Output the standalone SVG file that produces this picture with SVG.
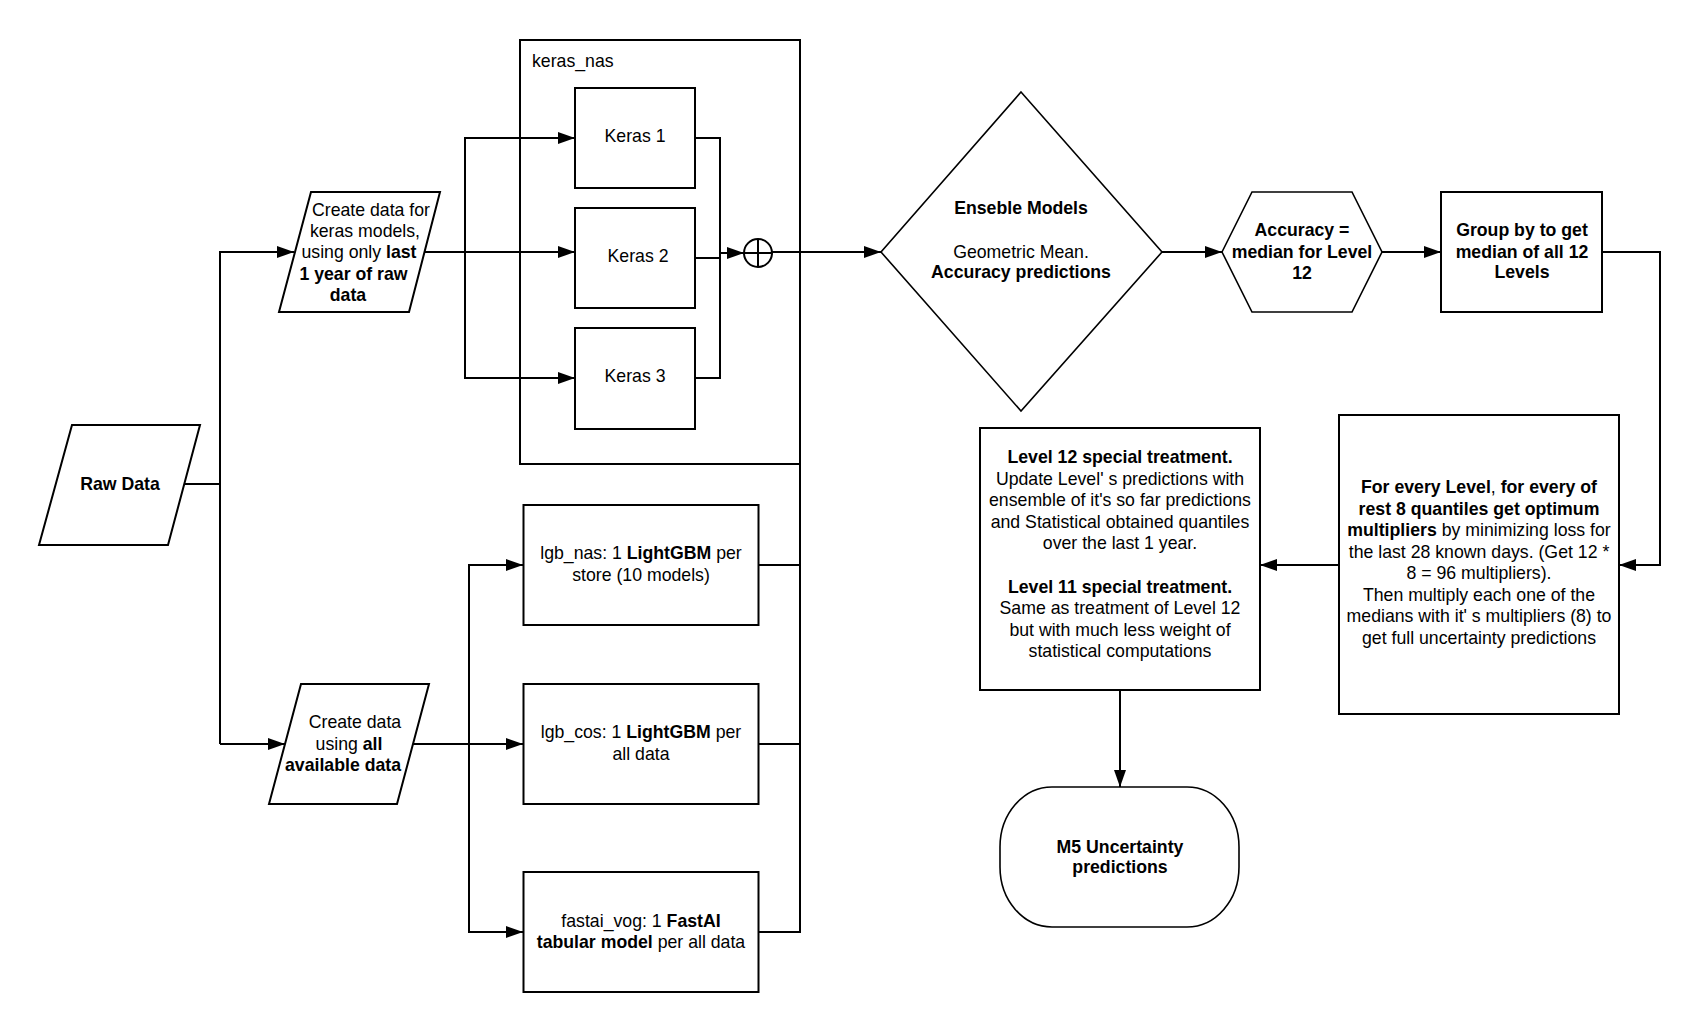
<svg xmlns="http://www.w3.org/2000/svg" width="1700" height="1032" viewBox="0 0 1700 1032">
<defs>
<marker id="arr" markerUnits="userSpaceOnUse" markerWidth="18" markerHeight="12" refX="17" refY="6" orient="auto">
<path d="M0,0 L17,6 L0,12 z" fill="#000"/>
</marker>
</defs>
<style>
text{font-family:"Liberation Sans",Arial,sans-serif;font-size:17.7px;fill:#000;text-anchor:middle}
.b{font-weight:bold}
.s{fill:#fff;stroke:#000;stroke-width:2}
.t{fill:#fff;stroke:#000;stroke-width:1.6}
.c{fill:none;stroke:#000;stroke-width:2}
.ca{fill:none;stroke:#000;stroke-width:2;marker-end:url(#arr)}
</style>
<rect width="1700" height="1032" fill="#fff"/>

<g id="keras_nas">
<rect class="s" x="520" y="40" width="280" height="424"/>
<text x="532" y="67" style="text-anchor:start">keras_nas</text>
</g>

<g id="connectors">
<path class="c" d="M184,484 H220 V744"/>
<path class="ca" d="M220,484 V252 H294"/>
<path class="ca" d="M220,744 H285"/>
<path class="ca" d="M424,252 H575"/>
<path class="ca" d="M465,252 V138 H575"/>
<path class="ca" d="M465,252 V378 H575"/>
<path class="c" d="M695,138 H720 V378 H695"/>
<path class="c" d="M695,258 H720"/>
<path class="ca" d="M720,253 H744"/>
<path class="ca" d="M772,252 H881"/>
<path class="ca" d="M413,744 H523"/>
<path class="ca" d="M469,744 V565 H523"/>
<path class="ca" d="M469,744 V932 H523"/>
<path class="c" d="M758,565 H800"/>
<path class="c" d="M758,744 H800"/>
<path class="c" d="M758,932 H800 V252"/>
<path class="ca" d="M1162,252 H1222"/>
<path class="ca" d="M1382,252 H1441"/>
<path class="ca" d="M1602,252 H1660 V565 H1619"/>
<path class="ca" d="M1339,565 H1260"/>
<path class="ca" d="M1120,690 V787"/>
</g>

<g id="raw_data">
<polygon class="s" points="72,425 200,425 168,545 39,545"/>
<text class="b" x="120" y="490">Raw Data</text>
</g>

<g id="create_keras">
<polygon class="s" points="311,192 440,192 409,312 279,312"/>
<text x="371" y="216">Create data for</text>
<text x="365" y="237">keras models,</text>
<text x="359" y="258">using only <tspan class="b">last</tspan></text>
<text x="353.5" y="280" class="b">1 year of raw</text>
<text x="348" y="301" class="b">data</text>
</g>

<g id="create_all">
<polygon class="s" points="301,684 429,684 397,804 269,804"/>
<text x="355" y="728">Create data</text>
<text x="349" y="750">using <tspan class="b">all</tspan></text>
<text x="343" y="771" class="b">available data</text>
</g>

<g id="keras1">
<rect class="s" x="575" y="88" width="120" height="100"/>
<text x="635" y="142">Keras 1</text>
</g>
<g id="keras2">
<rect class="s" x="575" y="208" width="120" height="100"/>
<text x="638" y="262">Keras 2</text>
</g>
<g id="keras3">
<rect class="s" x="575" y="328" width="120" height="101"/>
<text x="635" y="382">Keras 3</text>
</g>

<g id="sum">
<circle class="s" cx="758" cy="253" r="14"/>
<path class="c" d="M744,253 H772 M758,239 V267"/>
</g>

<g id="lgb_nas">
<rect class="s" x="523.5" y="505" width="235" height="120"/>
<text x="641" y="559">lgb_nas: 1 <tspan class="b">LightGBM</tspan> per</text>
<text x="641" y="581">store (10 models)</text>
</g>
<g id="lgb_cos">
<rect class="s" x="523.5" y="684" width="235" height="120"/>
<text x="641" y="738">lgb_cos: 1 <tspan class="b">LightGBM</tspan> per</text>
<text x="641" y="760">all data</text>
</g>
<g id="fastai_vog">
<rect class="s" x="523.5" y="872" width="235" height="120"/>
<text x="641" y="927">fastai_vog: 1 <tspan class="b">FastAI</tspan></text>
<text x="641" y="948"><tspan class="b">tabular model</tspan> per all data</text>
</g>

<g id="ensemble">
<polygon class="t" points="1021,92 1162,252 1021,411 881,252"/>
<text class="b" x="1021" y="214">Enseble Models</text>
<text x="1021" y="258">Geometric Mean.</text>
<text class="b" x="1021" y="278">Accuracy predictions</text>
</g>

<g id="accuracy">
<polygon class="t" points="1222,252 1252,192 1352,192 1382,252 1352,312 1252,312"/>
<text class="b" x="1302" y="236">Accuracy =</text>
<text class="b" x="1302" y="258">median for Level</text>
<text class="b" x="1302" y="279">12</text>
</g>

<g id="group_by">
<rect class="s" x="1441" y="192" width="161" height="120"/>
<text class="b" x="1522" y="236">Group by to get</text>
<text class="b" x="1522" y="258">median of all 12</text>
<text class="b" x="1522" y="278">Levels</text>
</g>

<g id="multipliers">
<rect class="s" x="1339" y="415" width="280" height="299"/>
<text x="1479" y="493"><tspan class="b">For every Level</tspan>, <tspan class="b">for every of</tspan></text>
<text class="b" x="1479" y="514.5">rest 8 quantiles get optimum</text>
<text x="1479" y="536"><tspan class="b">multipliers</tspan> by minimizing loss for</text>
<text x="1479" y="557.5">the last 28 known days. (Get 12 *</text>
<text x="1479" y="579">8 = 96 multipliers).</text>
<text x="1479" y="600.5">Then multiply each one of the</text>
<text x="1479" y="622">medians with it' s multipliers (8) to</text>
<text x="1479" y="643.5">get full uncertainty predictions</text>
</g>

<g id="level_treatment">
<rect class="s" x="980" y="428" width="280" height="262"/>
<text class="b" x="1120" y="463">Level 12 special treatment.</text>
<text x="1120" y="484.5">Update Level' s predictions with</text>
<text x="1120" y="506">ensemble of it's so far predictions</text>
<text x="1120" y="527.5">and Statistical obtained quantiles</text>
<text x="1120" y="549">over the last 1 year.</text>
<text class="b" x="1120" y="592.5">Level 11 special treatment.</text>
<text x="1120" y="614">Same as treatment of Level 12</text>
<text x="1120" y="635.5">but with much less weight of</text>
<text x="1120" y="657">statistical computations</text>
</g>

<g id="m5">
<rect class="t" x="1000" y="787" width="239" height="140" rx="52" ry="60"/>
<text class="b" x="1120" y="853">M5 Uncertainty</text>
<text class="b" x="1120" y="873">predictions</text>
</g>
</svg>
